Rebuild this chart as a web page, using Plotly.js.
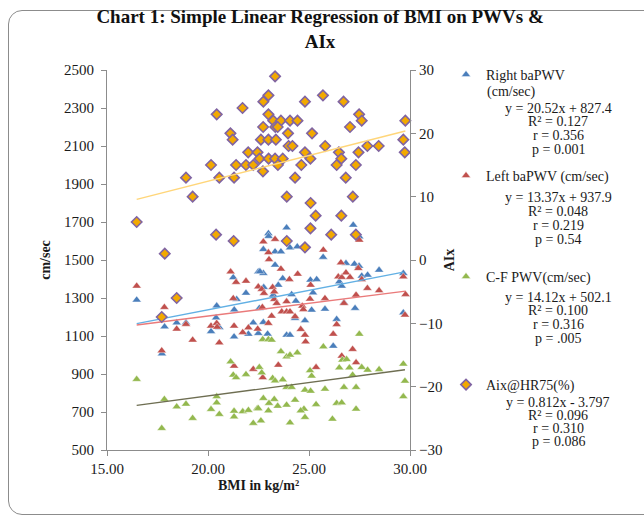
<!DOCTYPE html>
<html><head><meta charset="utf-8">
<script src="https://cdn.plot.ly/plotly-3.0.1.min.js"></script>
<style>
html,body{margin:0;padding:0;background:#fff;overflow:hidden;}
#frame{position:absolute;left:8px;top:10px;width:660px;height:505px;border:1px solid #8c8c8c;border-radius:14px;box-sizing:border-box;}
#chart{position:absolute;left:0;top:0;width:644px;height:527px;}
</style></head><body>
<div id="frame"></div>
<div id="chart"></div>
<script>
// ---- data ----
const seriesNames = ['Right baPWV', 'Left baPWV (cm/sec)', 'C-F PWV(cm/sec)', 'Aix@HR75(%)'];
const seriesNameCont = '(cm/sec)';

const rightBMI = [16.47,17.85,17.72,18.45,18.91,20.43,20.40,20.15,20.56,21.25,21.42,21.30,21.29,21.88,22.24,22.00,22.49,22.54,22.49,22.74,22.76,22.57,22.74,22.99,23.00,22.95,22.74,23.32,23.61,23.89,24.06,24.42,23.32,23.70,23.48,23.23,24.14,24.35,24.31,24.80,23.89,24.06,25.07,25.38,25.20,25.13,25.79,25.70,26.20,26.37,26.50,26.62,26.73,26.83,27.19,27.25,27.28,27.48,27.49,27.61,27.90,28.47,29.67,29.67];
const rightPWV = [1290,1149,1007,1170,1170,1259,1196,1124,1145,1408,1293,1238,1096,1326,1170,1110,1438,1246,1114,1430,1356,1439,1556,1640,1625,1111,1172,1544,1544,1670,1565,1570,1474,1403,1368,1316,1319,1284,1193,1181,1105,1105,1395,1398,1328,1237,1242,1515,1047,1188,1386,1363,1275,1483,1684,1479,1246,1468,1623,1416,1421,1447,1430,1223];

const leftBMI = [16.47,17.84,17.71,18.45,18.91,19.24,20.15,20.43,20.45,20.56,21.12,21.39,21.25,21.29,21.88,21.72,22.00,22.49,22.24,21.29,22.74,23.32,22.99,23.02,23.61,24.44,24.03,22.66,22.77,23.20,23.28,23.28,22.69,23.15,23.40,23.89,23.65,23.89,24.06,24.31,24.67,24.72,25.05,25.08,25.71,25.79,24.59,24.80,24.83,26.20,26.37,26.45,26.62,26.83,26.58,27.03,26.73,27.33,27.44,27.61,27.89,28.47,29.67,29.78,29.75,27.16,26.62,27.33,25.35,23.48,22.71,27.49,22.99,22.46];
const leftPWV = [1363,1251,1023,1137,1162,1079,1153,1167,1147,1065,1438,1383,1298,1153,1389,1119,1144,1359,925,942,1596,1609,1539,1503,1453,1426,1398,1346,1325,1356,1333,1293,1251,1205,1272,1281,1228,1228,1228,1202,1258,1240,1295,1368,1553,1298,1135,1105,1070,1110,1161,1412,1409,1433,1486,1409,1272,1316,1456,1398,1351,1339,1412,1319,1211,1030,995,960,935,947,881,1605,1167,1137];

const cfBMI = [16.47,17.84,17.71,18.45,18.91,19.24,20.15,20.43,20.43,20.56,21.12,21.25,21.39,21.88,21.29,21.29,21.72,22.00,22.44,22.24,22.54,22.71,22.99,23.15,22.66,23.20,23.32,23.70,22.74,23.28,22.49,23.02,22.99,23.45,23.89,24.31,22.62,24.06,23.61,23.89,24.06,24.42,25.71,27.49,26.65,26.86,26.50,27.00,27.61,27.90,28.47,29.67,29.75,29.67,25.05,25.13,23.89,24.14,24.80,25.08,25.79,26.73,27.33,27.16,24.75,24.59,25.35,26.37,26.62,27.33,24.80,26.16];
const cfPWV = [872,767,614,728,742,667,714,781,749,688,965,895,881,898,705,675,702,709,719,641,935,1082,1082,1079,907,878,864,870,772,767,719,746,707,731,737,763,654,644,1018,991,1000,1012,1044,1110,974,977,933,933,935,921,924,953,863,781,918,890,830,830,816,810,821,830,830,895,716,707,740,746,749,716,672,663];

const aixBMI = [23.32,22.99,25.69,22.74,24.80,26.71,20.43,21.71,22.99,27.48,23.23,23.61,24.06,24.43,27.61,29.77,22.73,23.33,23.45,23.96,25.15,27.03,21.11,21.22,22.62,22.99,23.36,29.67,23.99,24.18,25.80,27.89,28.45,21.99,22.45,24.80,26.48,27.45,29.74,22.55,23.00,23.32,23.70,25.07,26.60,20.15,21.39,21.88,22.24,23.46,24.62,26.37,27.32,22.72,18.91,20.56,21.29,24.31,26.82,19.24,23.90,27.17,25.08,25.33,26.60,16.47,25.07,20.40,26.10,27.32,21.27,23.90,24.80,17.86,18.45,17.71];
const aixVal = [29,26,26,25,25,25,23,24,23,23,22,22,22,22,22,22,21,21,21,20,20,21,20,19,19,19,19,19,18,18,18,18,18,17,17,17,17,17,17,16,16,16,16,16,16,15,15,15,15,15,15,15,15,14,13,13,13,13,13,10,10,10,9,7,7,6,5,4,4,4,3,3,2,1,-6,-9];

// regression results (as printed on the chart)
const slopes = [20.52, 13.37, 14.12, 0.812];
const intercepts = [827.4, 937.9, 502.1, -3.797];
const eqTexts = ['y = 20.52x + 827.4', 'y = 13.37x + 937.9', 'y = 14.12x + 502.1', 'y = 0.812x - 3.797'];
const r2Texts = ['R² = 0.127', 'R² = 0.048', 'R² = 0.100', 'R² = 0.096'];
const rTexts = ['r = 0.356', 'r = 0.219', 'r = 0.316', 'r = 0.310'];
const pTexts = ['p = 0.001', 'p = 0.54', 'p = .005', 'p = 0.086'];

const xTickVals = [15, 20, 25, 30];
const yTickVals = [500, 700, 900, 1100, 1300, 1500, 1700, 1900, 2100, 2300, 2500];
const y2TickVals = [-30, -20, -10, 0, 10, 20, 30];

// ---- styling ----
const markerColors = ['#4a7ebb', '#c0504d', '#93b84e', '#f2a900'];
const lineColors = ['#62b0e4', '#ea7a7a', '#6e6e52', '#ffd67a'];
const xs = [rightBMI, leftBMI, cfBMI, aixBMI];
const ys = [rightPWV, leftPWV, cfPWV, aixVal];
const legendIds = ['legend', 'legend2', 'legend3', 'legend4'];

const traces = [];
for (let i = 0; i < 4; i++) {
  const isAix = i === 3;
  traces.push({
    type: 'scatter', mode: 'markers', x: xs[i], y: ys[i], name: seriesNames[i],
    yaxis: isAix ? 'y2' : 'y', legend: legendIds[i],
    marker: isAix
      ? {symbol: 'diamond', size: 8, color: markerColors[i], line: {color: '#8064a2', width: 1.6}}
      : {symbol: 'triangle-up', size: 8, color: markerColors[i], line: {color: 'rgba(255,255,255,0.7)', width: 0.6}},
    cliponaxis: false
  });
}
for (let i = 0; i < 4; i++) {
  const lo = Math.min(...xs[i]), hi = Math.max(...xs[i]);
  traces.push({
    type: 'scatter', mode: 'lines', x: [lo, hi],
    y: [slopes[i] * lo + intercepts[i], slopes[i] * hi + intercepts[i]],
    yaxis: i === 3 ? 'y2' : 'y', showlegend: false,
    line: {color: lineColors[i], width: 1.4}
  });
}

// layout helpers (pixel -> paper)
const L = 107, R = 410, T = 70, B = 450;
const px = v => (v - L) / (R - L);
const py = v => 1 - (v - T) / (B - T);

const FS = 14;
const eqTop = [108, 197, 297, 402];
const eqStep = [13.8, 14.2, 13.7, 13];
const annotations = [];
for (let i = 0; i < 4; i++) {
  [eqTexts[i], r2Texts[i], rTexts[i], pTexts[i]].forEach((t, k) => {
    annotations.push({
      text: t, xref: 'paper', yref: 'paper', x: px(558), y: py(eqTop[i] + k * eqStep[i]),
      xanchor: 'center', yanchor: 'middle', showarrow: false, borderpad: 0,
      font: {size: FS, color: '#1a1a1a'}
    });
  });
}
annotations.push({
  text: seriesNameCont, xref: 'paper', yref: 'paper', x: px(486), y: py(92),
  xanchor: 'left', yanchor: 'middle', showarrow: false, borderpad: 0,
  font: {size: FS, color: '#1a1a1a'}
});

const legendTops = [59, 160, 261, 369];
const legendBase = {
  x: px(446), xanchor: 'left', yanchor: 'top', bgcolor: 'rgba(0,0,0,0)',
  borderwidth: 0, valign: 'top', font: {size: FS, color: '#1a1a1a'}
};
const axisCommon = {
  showgrid: false, zeroline: false, showline: true, linecolor: '#8c8c8c', linewidth: 1,
  ticks: 'outside', ticklen: 5, tickcolor: '#8c8c8c', tickfont: {size: 15, color: '#1a1a1a'}
};

const layout = {
  width: 644, height: 527,
  margin: {l: L, r: 644 - R, t: T, b: 527 - B},
  paper_bgcolor: 'rgba(0,0,0,0)', plot_bgcolor: 'rgba(0,0,0,0)',
  font: {family: '"Liberation Serif", "Times New Roman", serif', size: 15, color: '#1a1a1a'},
  title: {
    text: '<b>Chart 1: Simple Linear Regression of BMI on PWVs &<br>AIx</b>',
    x: 0.497, xanchor: 'center', y: 1 - 23 / 527, yanchor: 'top',
    font: {size: 19, color: '#111'}
  },
  xaxis: Object.assign({}, axisCommon, {
    range: [15, 30], tickvals: xTickVals, tickformat: '.2f',
    title: {text: '<b>BMI in kg/m²</b>', font: {size: 14}, standoff: 4}
  }),
  yaxis: Object.assign({}, axisCommon, {
    range: [500, 2500], tickvals: yTickVals, ticklabelstandoff: 4,
    title: {text: '<b>cm/sec</b>', font: {size: 14}, standoff: 10}
  }),
  yaxis2: Object.assign({}, axisCommon, {
    overlaying: 'y', side: 'right', range: [-30, 30], tickvals: y2TickVals,
    title: {text: '<b>AIx</b>', font: {size: 14}, standoff: 2}
  }),
  legend: Object.assign({}, legendBase, {y: py(legendTops[0])}),
  legend2: Object.assign({}, legendBase, {y: py(legendTops[1])}),
  legend3: Object.assign({}, legendBase, {y: py(legendTops[2])}),
  legend4: Object.assign({}, legendBase, {y: py(legendTops[3])}),
  showlegend: true,
  annotations: annotations
};

Plotly.newPlot('chart', traces, layout, {staticPlot: true, displayModeBar: false});
</script>
</body></html>
